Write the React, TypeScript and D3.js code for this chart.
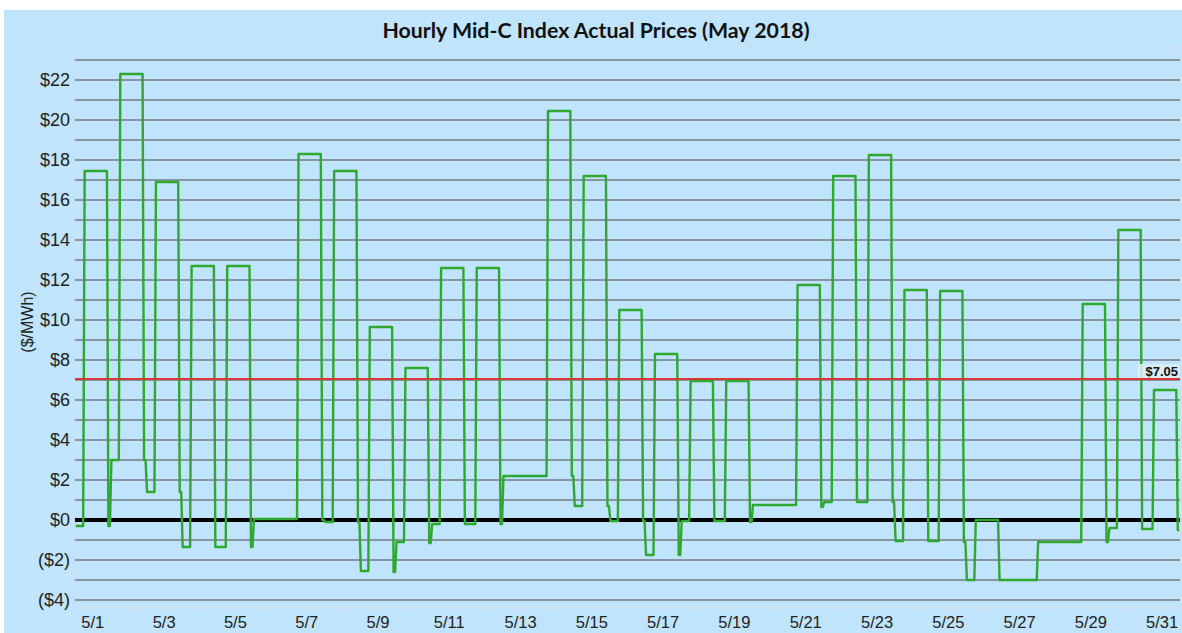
import React from 'react';
import * as d3 from 'd3';

// Mid-C daily index, split by block: HE1-6 off-peak, HE7-22 on-peak, HE23-24 off-peak
const dayLabels = [
  '5/1', '5/2', '5/3', '5/4', '5/5', '5/6', '5/7', '5/8', '5/9', '5/10',
  '5/11', '5/12', '5/13', '5/14', '5/15', '5/16', '5/17', '5/18', '5/19', '5/20',
  '5/21', '5/22', '5/23', '5/24', '5/25', '5/26', '5/27', '5/28', '5/29', '5/30', '5/31',
];

const amOffPeak = [
  -0.3, 3.0, 1.4, -1.35, -1.35, 0.05, 0.05, -0.1, -2.55, -1.1,
  -0.2, -0.2, 2.2, 2.2, 0.7, -0.05, -1.75, -0.05, -0.05, 0.75,
  0.75, 0.9, 0.9, -1.05, -1.05, -3.0, -3.0, -1.1, -1.1, -0.4, -0.45,
];

const onPeak = [
  17.45, 22.3, 16.9, 12.7, 12.7, 0.05, 18.3, 17.45, 9.65, 7.6,
  12.6, 12.6, 2.2, 20.45, 17.2, 10.5, 8.3, 6.95, 6.95, 0.75,
  11.75, 17.2, 18.25, 11.5, 11.45, 0.0, -3.0, -1.1, 10.8, 14.5, 6.5,
];

const pmOffPeak = [
  -0.3, 3.0, 1.4, -1.35, -1.35, 0.05, 0.0, -0.1, -2.6, -1.15,
  -0.2, -0.2, 2.2, 2.2, 0.7, -0.05, -1.75, -0.05, -0.1, 0.75,
  0.65, 0.9, 0.9, -1.05, -1.1, -3.0, -3.0, -1.1, -1.1, -0.45, -0.5,
];

const yTicks = [-4, -2, 0, 2, 4, 6, 8, 10, 12, 14, 16, 18, 20, 22];
const gridValues = [-4, -3, -2, -1, 1, 2, 3, 4, 5, 6, 7, 8, 9, 10, 11, 12, 13, 14, 15, 16, 17, 18, 19, 20, 21, 22, 23];
const average = 7.05;

const W = 1182;
const H = 633;
const plot = { left: 75, right: 1180, top: 48, bottom: 608 };

const fmt = (v: number) => (v < 0 ? `($${-v})` : `$${v}`);

export default function App() {
  // hourly table built from the block prices
  const hourly: { h: number; v: number }[] = [];
  dayLabels.forEach((_, d) => {
    for (let i = 0; i < 24; i++) {
      const v = i < 6 ? amOffPeak[d] : i < 22 ? onPeak[d] : pmOffPeak[d];
      hourly.push({ h: d * 24 + i, v });
    }
  });

  const x = d3.scaleLinear().domain([-0.5, hourly.length - 0.5]).range([plot.left, plot.right]);
  const y = d3.scaleLinear().domain([-4.4, 23.6]).range([plot.bottom, plot.top]);

  const line = d3.line<{ h: number; v: number }>()
    .x((d) => x(d.h))
    .y((d) => y(d.v));

  const font = '"Liberation Sans", Arial, sans-serif';

  return (
    <svg width={W} height={H} style={{ position: 'absolute', left: 0, top: 0, display: 'block' }}>
      <rect x={0} y={0} width={W} height={H} fill="#ffffff" />
      <rect x={4} y={10} width={W - 4} height={H - 10} fill="#c0e4fc" />

      <text x={596} y={38} textAnchor="middle" fontFamily="Lato, sans-serif" fontWeight="bold" fontSize={20.5}
        textLength={427} lengthAdjust="spacingAndGlyphs" fill="#111">
        Hourly Mid-C Index Actual Prices (May 2018)
      </text>

      {/* plot frame */}
      <line x1={plot.left} x2={plot.right} y1={plot.top} y2={plot.top} stroke="#d3dde6" strokeWidth={1} />
      <line x1={plot.left} x2={plot.left} y1={plot.top} y2={plot.bottom} stroke="#d3dde6" strokeWidth={1} />
      <line x1={plot.right} x2={plot.right} y1={plot.top} y2={plot.bottom} stroke="#d3dde6" strokeWidth={1} />
      <line x1={plot.left} x2={plot.right} y1={plot.bottom} y2={plot.bottom} stroke="#d3dde6" strokeWidth={1} />

      {gridValues.map((v) => (
        <line key={v} x1={plot.left} x2={plot.right} y1={y(v)} y2={y(v)} stroke="#717c86" strokeWidth={1.6} />
      ))}

      {dayLabels.map((_, d) => (
        <line key={d} x1={x(d * 24 + 11.5)} x2={x(d * 24 + 11.5)} y1={plot.bottom} y2={plot.bottom + 3} stroke="#d3dde6" strokeWidth={1} />
      ))}

      <line x1={plot.left} x2={plot.right} y1={y(0)} y2={y(0)} stroke="#000" strokeWidth={4} />

      <path d={line(hourly) ?? ''} fill="none" stroke="#2ea82e" strokeWidth={2.4} strokeLinejoin="round" />

      <line x1={plot.left} x2={plot.right} y1={y(average)} y2={y(average)} stroke="#dc3535" strokeWidth={2} />
      <rect x={1138} y={y(average) - 15} width={42} height={14} fill="#dcedf9" opacity={0.85} />
      <text x={1178} y={y(average) - 3.5} textAnchor="end" fontFamily={font} fontWeight="bold" fontSize={13} fill="#111">
        ${average.toFixed(2)}
      </text>

      {yTicks.map((v) => (
        <text key={v} x={70} y={y(v)} dy="0.36em" textAnchor="end" fontFamily={font} fontSize={18} fill="#222">
          {fmt(v)}
        </text>
      ))}

      <text transform={`translate(33,${322}) rotate(-90)`} textAnchor="middle" fontFamily={font} fontSize={16} fill="#222">
        ($/MWh)
      </text>

      {dayLabels.map((lab, d) => (d % 2 === 0 ? (
        <text key={lab} x={x(d * 24 + 11.5)} y={628} textAnchor="middle" fontFamily={font} fontSize={16.5} fill="#222">
          {lab}
        </text>
      ) : null))}
    </svg>
  );
}
